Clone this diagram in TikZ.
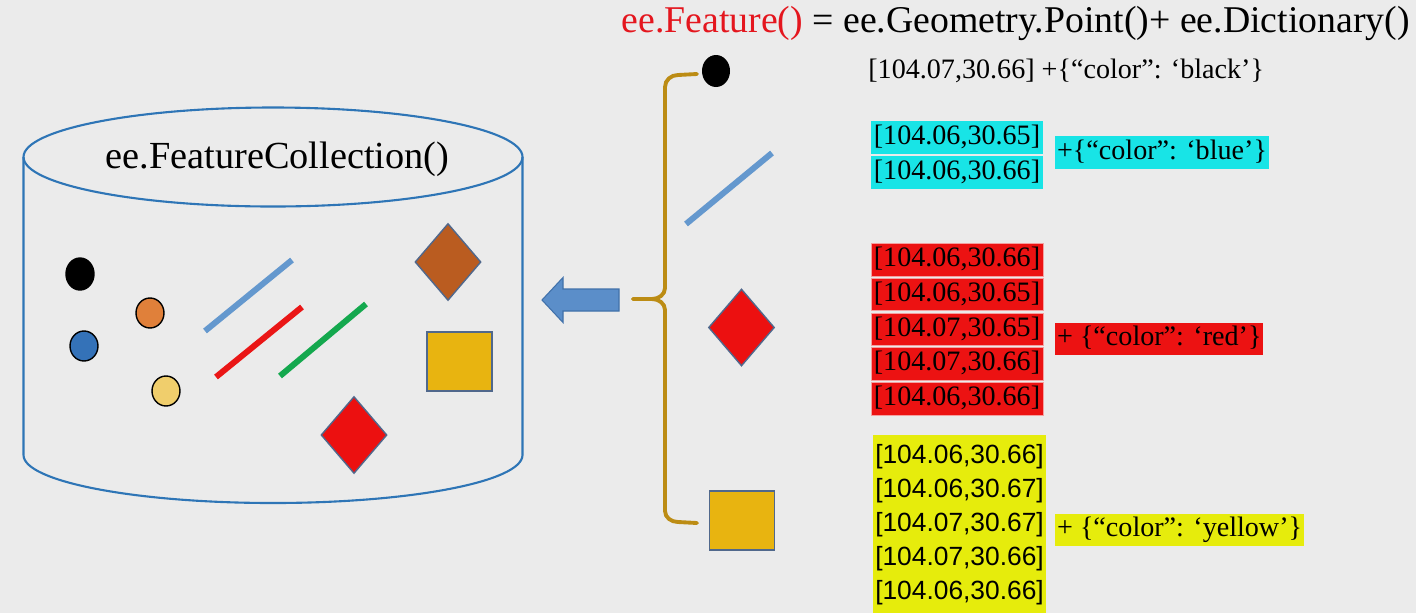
\documentclass[tikz,border=0pt]{standalone}
\usepackage{fontspec}
\setmainfont{Liberation Serif}
\newfontfamily\coordsans{Liberation Sans}
\usetikzlibrary{shapes.geometric}

\definecolor{bggray}{RGB}{235,235,235}
\definecolor{cylblue}{RGB}{46,117,182}
\definecolor{linkgold}{RGB}{188,140,20}
\definecolor{arrowblue}{RGB}{91,142,201}
\definecolor{arrowedge}{RGB}{65,113,170}
\definecolor{ptorange}{RGB}{224,128,58}
\definecolor{ptblue}{RGB}{52,114,184}
\definecolor{ptyellow}{RGB}{240,206,108}
\definecolor{lnblue}{RGB}{100,152,206}
\definecolor{lnred}{RGB}{234,22,22}
\definecolor{lngreen}{RGB}{20,168,78}
\definecolor{polybrown}{RGB}{186,92,32}
\definecolor{polyred}{RGB}{236,16,16}
\definecolor{polyyellow}{RGB}{232,180,16}
\definecolor{shapeedge}{RGB}{80,104,140}
\definecolor{hlcyan}{RGB}{24,228,230}
\definecolor{hlred}{RGB}{236,18,18}
\definecolor{hlredge}{RGB}{244,160,160}
\definecolor{hlyellow}{RGB}{230,236,12}
\definecolor{titlered}{RGB}{228,22,30}

\begin{document}
\begin{tikzpicture}[x=0.02cm,y=-0.02cm,
  pt/.style={ellipse,draw=black,line width=0.8pt,minimum width=0.56cm,minimum height=0.6cm,inner sep=0pt},
  seg/.style={line width=3.4pt},
  rhomb/.style={diamond,draw=shapeedge,line width=0.8pt,minimum width=1.32cm,minimum height=1.54cm,inner sep=0pt},
  sq/.style={rectangle,draw=shapeedge,line width=0.8pt,fill=polyyellow,minimum width=1.3cm,minimum height=1.18cm,inner sep=0pt},
  cyl/.style={draw=cylblue,line width=1.2pt},
  brace/.style={draw=linkgold,line width=2.2pt},
  coordbox/.style={font=\fontsize{16}{19}\selectfont,inner xsep=1pt,inner ysep=1pt,text height=12pt,text depth=4.5pt},
  coordsan/.style={font=\coordsans\fontsize{15}{18}\selectfont,inner sep=1pt}]

% Canvas
\fill[bggray] (0,0) rectangle (1416,613);
\useasboundingbox (0,0) rectangle (1416,613);

% Cylinder dimensions
\def\rx{249.5}
\def\ry{49.5}

% Collection cylinder
\coordinate (T) at (273,157);
\draw[cyl] (T) ellipse [x radius=\rx, y radius=\ry];
\draw[cyl] (23.5,157) -- (23.5,455)
  arc[start angle=180,end angle=0,x radius=\rx,y radius=48] -- (522.5,157);
\node[font=\fontsize{21.8}{26}\selectfont] (collection) at (277.5,159) {ee.FeatureCollection()};

% Points in the collection
\node[pt,fill=black,minimum height=0.64cm] (p1) at (80,274) {};
\node[pt,fill=ptorange] (p2) at (150,313) {};
\node[pt,fill=ptblue] (p3) at (84,346) {};
\node[pt,fill=ptyellow] (p4) at (166,391) {};

% Lines in the collection
\draw[seg,lnblue] (205,331) -- (292,260);
\draw[seg,lnred] (216,377) -- (302,307);
\draw[seg,lngreen] (280,376) -- (366,304);

% Polygons in the collection
\node[rhomb,fill=polybrown] (g1) at (448,262) {};
\node[sq] (g2) at (459.5,361.5) {};
\node[rhomb,fill=polyred] (g3) at (354,435) {};

% Block arrow towards the collection
\coordinate (A) at (542,300);
\filldraw[fill=arrowblue,draw=arrowedge,line width=0.6pt] (A) -- ++(21,-22.5) -- ++(0,11.5)
  -- ++(56,0) -- ++(0,22) -- ++(-56,0) -- ++(0,11.5) -- cycle;

% Single features
\node[ellipse,fill=black,minimum width=0.56cm,minimum height=0.64cm,inner sep=0pt] (f1) at (716,71) {};
\draw[seg,lnblue] (686,224) -- (772,153);
\node[rhomb,fill=polyred] (f3) at (741.5,327.5) {};
\node[sq] (f4) at (742,520.5) {};

% Brace
\coordinate (B) at (633,299);
\draw[brace,line cap=round] (B) -- (652,299) to[out=0,in=-90] (665,288) -- (665,87)
  to[out=90,in=180] (678,75) -- (697,74);
\draw[brace,line cap=round] (B) -- (652,299) to[out=0,in=90] (665,310) -- (665,511)
  to[out=-90,in=180] (678,522) -- (697,523);

% Formula
\node[anchor=base east,font=\fontsize{21.5}{26}\selectfont,inner sep=0pt] (formula) at (1410,32)
  {\textcolor{titlered}{ee.Feature()} = ee.Geometry.Point()+ ee.Dictionary()};

% Point feature
\node[anchor=base west,font=\fontsize{16}{19}\selectfont,inner sep=0pt] (c1) at (868,78)
  {[104.07,30.66] +\{“color”: ‘black’\}};

% Line feature
\node[coordbox,fill=hlcyan,minimum width=3.44cm] (c21) at (957,137.5) {[104.06,30.65]};
\node[coordbox,fill=hlcyan,minimum width=3.44cm] (c22) at (957,172.5) {[104.06,30.66]};
\node[coordbox,fill=hlcyan,anchor=west] (d2) at (1055,152.5) {+\{“color”: ‘blue’\}};

% Polygon feature
\node[coordbox,fill=hlred,draw=hlredge,line width=0.4pt,minimum width=3.44cm] (c31) at (957,260) {[104.06,30.66]};
\node[coordbox,fill=hlred,draw=hlredge,line width=0.4pt,minimum width=3.44cm] (c32) at (957,294.5) {[104.06,30.65]};
\node[coordbox,fill=hlred,draw=hlredge,line width=0.4pt,minimum width=3.44cm] (c33) at (957,329.5) {[104.07,30.65]};
\node[coordbox,fill=hlred,draw=hlredge,line width=0.4pt,minimum width=3.44cm] (c34) at (957,364) {[104.07,30.66]};
\node[coordbox,fill=hlred,draw=hlredge,line width=0.4pt,minimum width=3.44cm] (c35) at (957,399) {[104.06,30.66]};
\node[coordbox,fill=hlred,anchor=west] (d3) at (1055,339) {+ \{“color”: ‘red’\}};

% Square feature
\fill[hlyellow] (873,435) rectangle (1046,613);
\node[coordsan] (c41) at (959.5,457) {[104.06,30.66]};
\node[coordsan] (c42) at (959.5,491) {[104.06,30.67]};
\node[coordsan] (c43) at (959.5,525) {[104.07,30.67]};
\node[coordsan] (c44) at (959.5,559) {[104.07,30.66]};
\node[coordsan] (c45) at (959.5,593) {[104.06,30.66]};
\node[coordbox,fill=hlyellow,anchor=west] (d4) at (1055,530) {+ \{“color”: ‘yellow’\}};

\end{tikzpicture}
\end{document}
